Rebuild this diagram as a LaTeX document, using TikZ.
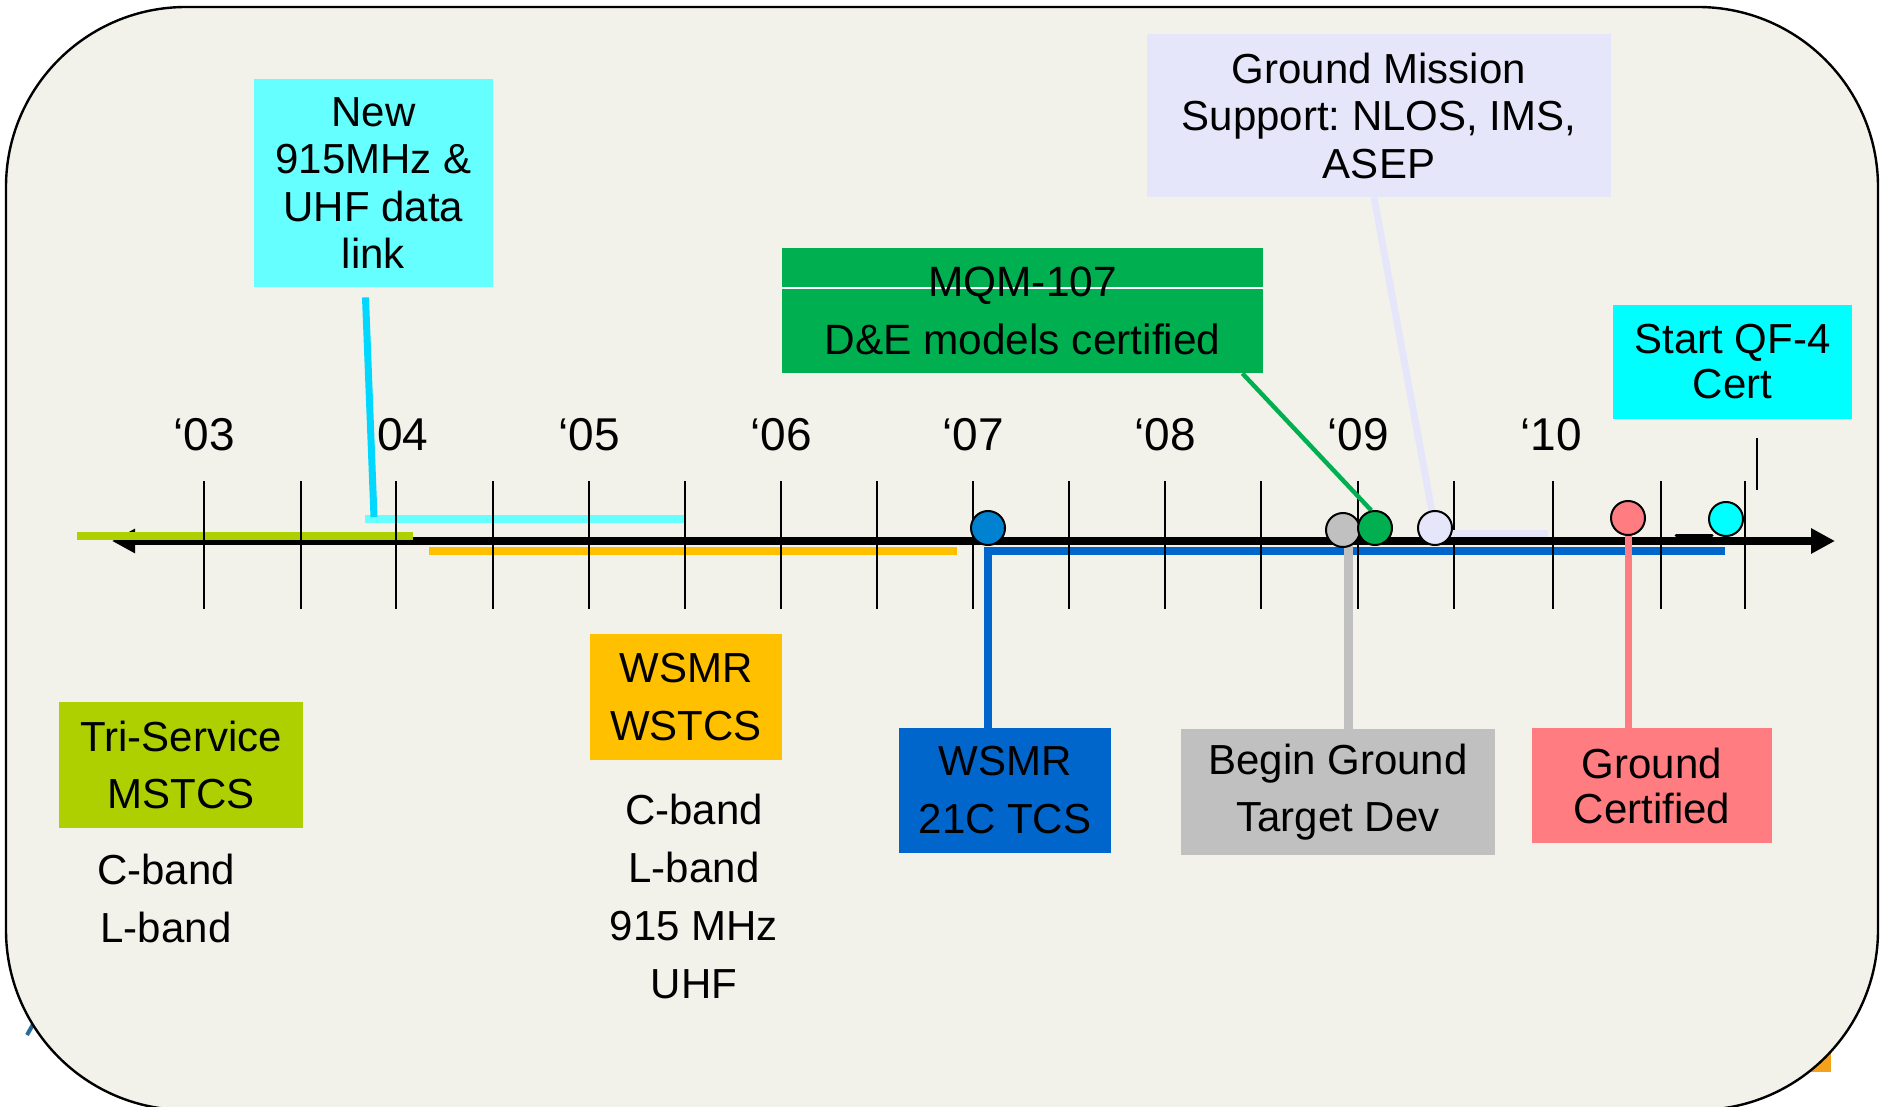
\documentclass[tikz,border=0pt]{standalone}
\usepackage{fontspec}
\setmainfont{Liberation Sans}
\usetikzlibrary{arrows.meta,calc}
\pgfdeclarelayer{back}
\pgfdeclarelayer{mid}
\pgfsetlayers{back,mid,main}
\definecolor{framefill}{HTML}{F2F2EA}
\definecolor{cyanbox}{HTML}{66FFFF}
\definecolor{cyanline}{HTML}{00D8FF}
\definecolor{cyanbar}{HTML}{66FFFF}
\definecolor{lav}{HTML}{E6E6FA}
\definecolor{grn}{HTML}{00B050}
\definecolor{qfcyan}{HTML}{00FFFF}
\definecolor{ygreen}{HTML}{AECF00}
\definecolor{orng}{HTML}{FFC000}
\definecolor{blu}{HTML}{0066CC}
\definecolor{dotblue}{HTML}{0082D0}
\definecolor{gry}{HTML}{C0C0C0}
\definecolor{salmon}{HTML}{FF7C80}
\definecolor{orangebit}{HTML}{F4A11D}
\definecolor{bluebit}{HTML}{2A6A9A}
\frenchspacing
\begin{document}
\begin{tikzpicture}[x=0.5pt,y=-0.5pt,
  box/.style={rectangle, inner sep=0pt, align=center, text=black},
  yearlbl/.style={font=\fontsize{23}{26}\selectfont, inner sep=0pt},
  tickline/.style={line width=1pt, black},
  bar/.style={line width=4pt},
  dot/.style={circle, draw=black, line width=1pt, minimum size=17pt, inner sep=0pt}]
\useasboundingbox (0,0) rectangle (1881,1107);
% ---------- boxes ----------
\node[box, fill=cyanbox, minimum width=119.5pt, minimum height=104pt,
      font=\fontsize{21}{23.75}\selectfont] (newlink) at (373.5,183) {New\\915MHz \&\\UHF data\\link};
\node[box, fill=lav, minimum width=232pt, minimum height=81.5pt,
      font=\fontsize{21}{23.75}\selectfont] (gms) at (1379,115.5) {Ground Mission\\Support: NLOS, IMS,\\ASEP};
\node[box, fill=grn, minimum width=240.5pt, minimum height=62.5pt,
      font=\fontsize{21.2}{29}\selectfont,
      path picture={\draw[white, line width=0.6pt]
        ([yshift=11.25pt]path picture bounding box.west) -- ([yshift=11.25pt]path picture bounding box.east);}]
      (mqm) at (1022.5,310.5) {MQM-107\\D\&E models certified};
\node[box, fill=qfcyan, minimum width=119.5pt, minimum height=57pt,
      font=\fontsize{21}{22.5}\selectfont] (qf4) at (1732.5,362) {Start QF-4\\Cert};
\node[box, fill=ygreen, minimum width=122pt, minimum height=63pt,
      font=\fontsize{21}{28.5}\selectfont] (tri) at (181,765) {Tri-Service\\MSTCS};
\node[box, fill=orng, minimum width=96pt, minimum height=63pt,
      font=\fontsize{21}{29}\selectfont] (wstcs) at (686,697) {WSMR\\WSTCS};
\node[box, fill=blu, minimum width=106pt, minimum height=62.5pt,
      font=\fontsize{21}{29}\selectfont] (tcs21) at (1005,790.5) {WSMR\\21C TCS};
\node[box, fill=gry, minimum width=157pt, minimum height=63pt,
      font=\fontsize{21}{28.5}\selectfont] (bgtd) at (1338,792) {Begin Ground\\Target Dev};
\node[box, fill=salmon, minimum width=120pt, minimum height=57.5pt,
      font=\fontsize{21}{22.5}\selectfont] (gcert) at (1652,785.5) {Ground\\Certified};
\node[box, font=\fontsize{21}{29}\selectfont] (band1) at (166,898) {C-band\\L-band};
\node[box, font=\fontsize{21}{29}\selectfont] (band2) at (694,896) {C-band\\L-band\\915 MHz\\UHF};
% ---------- milestone dots ----------
\node[dot, fill=dotblue] (c07) at (988,528) {};
\node[dot, fill=gry] (cbg) at (1343,530) {};
\node[dot, fill=grn] (cmqm) at (1375,528) {};
\node[dot, fill=lav] (cgms) at (1435,528) {};
\node[dot, fill=salmon] (cgc) at (1628,518) {};
\node[dot, fill=qfcyan] (cqf) at (1726,519) {};
% ---------- background ----------
\begin{pgfonlayer}{back}
\fill[white] (0,0) rectangle (1881,1107);
\fill[orangebit] (1790,1040) rectangle (1831,1072);
\draw[line width=2pt, bluebit] (27,1035) -- (40,1012);
\draw[line width=1.2pt, fill=framefill, rounded corners=90pt] (6,7) rectangle (1878,1110);
\node[yearlbl] (y03) at (204,435) {‘03};
\node[yearlbl] (y04) at (403,435) {04};
\node[yearlbl] (y05) at (589,435) {‘05};
\node[yearlbl] (y06) at (781,435) {‘06};
\node[yearlbl] (y07) at (973,435) {‘07};
\node[yearlbl] (y08) at (1165,435) {‘08};
\node[yearlbl] (y09) at (1358,435) {‘09};
\node[yearlbl] (y10) at (1551,435) {‘10};
\end{pgfonlayer}
% ---------- timeline ----------
\begin{pgfonlayer}{mid}
\coordinate (axisL) at (112,541);
\coordinate (axisR) at (1835,541);
\coordinate (blueend) at (1725,551);
\coordinate (lavend) at (1548,533);
\coordinate (nlend) at (374,517);
\draw[bar, cyanbar] (365,519) -- (684,519);
\draw[bar, orng] (429,551) -- (957,551);
\draw[line width=4.25pt, blu] (c07.center |- tcs21.north) -- (c07.center |- blueend) -- (blueend);
\draw[line width=4pt, {Triangle[length=11.5pt,width=11.5pt]}-{Triangle[length=12pt,width=12pt]}] (axisL) -- (axisR);
\draw[bar, ygreen] (77,536) -- (413,536);
\draw[line width=1.5pt, line cap=round] (1676,535.5) -- (1712,535.5);
\foreach \tx in {204,301,396,493,589,685,781,877,973,1069,1165,1261,1358,1454,1553,1661,1745}
  \draw[tickline] (\tx,481) -- (\tx,609);
\draw[tickline] (1757,438) -- (1757,490);
% connectors
\draw[line width=3.5pt, cyanline] ([xshift=-4pt,yshift=-5pt]newlink.south) -- (nlend);
\draw[line width=3.5pt, lav] ([xshift=-2.5pt]gms.south) -- (cgms.center);
\draw[line width=3.5pt, lav] (cgms.center |- lavend) -- (lavend);
\draw[line width=2.2pt, grn] ([xshift=-10.5pt]mqm.south east) -- (cmqm.102);
\coordinate (gtop) at ([xshift=2.5pt]cbg.center);
\draw[line width=4.5pt, gry] (gtop) -- (gtop |- bgtd.north);
\draw[line width=3.5pt, salmon] (cgc.center) -- (cgc.center |- gcert.north);
\end{pgfonlayer}
\end{tikzpicture}
\end{document}
